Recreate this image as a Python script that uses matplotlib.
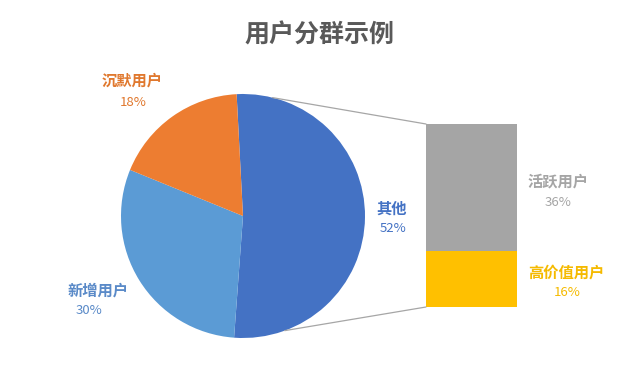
import numpy as np
import matplotlib.pyplot as plt
from matplotlib.patches import ConnectionPatch

plt.rcParams['font.family'] = ['Noto Sans CJK SC', 'DejaVu Sans']

# pie data (clockwise from top)
pie_labels = ["其他", "新增用户", "沉默用户"]
pie_values = [52, 30, 18]
pie_colors = ["#4472C4", "#5B9BD5", "#ED7D31"]

# bar data (bottom to top), split of "其他"
bar_labels = ["高价值用户", "活跃用户"]
bar_values = [16, 36]
bar_colors = ["#FFC000", "#A5A5A5"]

W, H = 640, 377
fig = plt.figure(figsize=(6.4, 3.77), dpi=100)

def px(x, y):
    # pixel position -> figure fraction
    return x / W, 1 - y / H

# pie axes
cx, cy, r = 243, 216, 122
ax1 = fig.add_axes([(cx - r) / W, 1 - (cy + r) / H, 2 * r / W, 2 * r / H])
wedges, _ = ax1.pie(pie_values, colors=pie_colors, startangle=93,
                    counterclock=False, radius=1)
ax1.set_xlim(-1, 1)
ax1.set_ylim(-1, 1)
ax1.axis('off')

# bar axes
bx0, bx1, by0, by1 = 426, 517, 124, 307
ax2 = fig.add_axes([bx0 / W, 1 - by1 / H, (bx1 - bx0) / W, (by1 - by0) / H])
bottom = 0
for v, c in zip(bar_values, bar_colors):
    ax2.bar(0, v, width=1, bottom=bottom, color=c)
    bottom += v
ax2.set_xlim(-0.5, 0.5)
ax2.set_ylim(0, sum(bar_values))
ax2.axis('off')

# connector lines
for ang, yb in [(76, sum(bar_values)), (-70, 0)]:
    a = np.deg2rad(ang)
    con = ConnectionPatch(xyA=(np.cos(a), np.sin(a)), coordsA=ax1.transData,
                          xyB=(-0.5, yb), coordsB=ax2.transData,
                          color="#A6A6A6", linewidth=0.9)
    fig.add_artist(con)

# title
fig.text(*px(319, 35), "用户分群示例", ha='center', va='center',
         fontsize=18, fontweight='bold', color="#595959")

# labels
label_pos = {
    "其他": ((392, 209), (393, 229), "#4472C4"),
    "新增用户": ((98, 291), (89, 311), "#5A8AC8"),
    "沉默用户": ((132, 81), (133, 102), "#E0782E"),
    "活跃用户": ((558, 182), (558, 203), "#A5A5A5"),
    "高价值用户": ((566, 273), (567, 293), "#F5BA00"),
}
all_labels = pie_labels + bar_labels
all_values = pie_values + bar_values
for name, val in zip(all_labels, all_values):
    p1, p2, col = label_pos[name]
    fig.text(*px(*p1), name, ha='center', va='center', fontsize=11,
             color=col, fontweight='bold')
    fig.text(*px(*p2), f"{val}%", ha='center', va='center', fontsize=9.5,
             color=col)

fig.savefig("out.png", dpi=100)
